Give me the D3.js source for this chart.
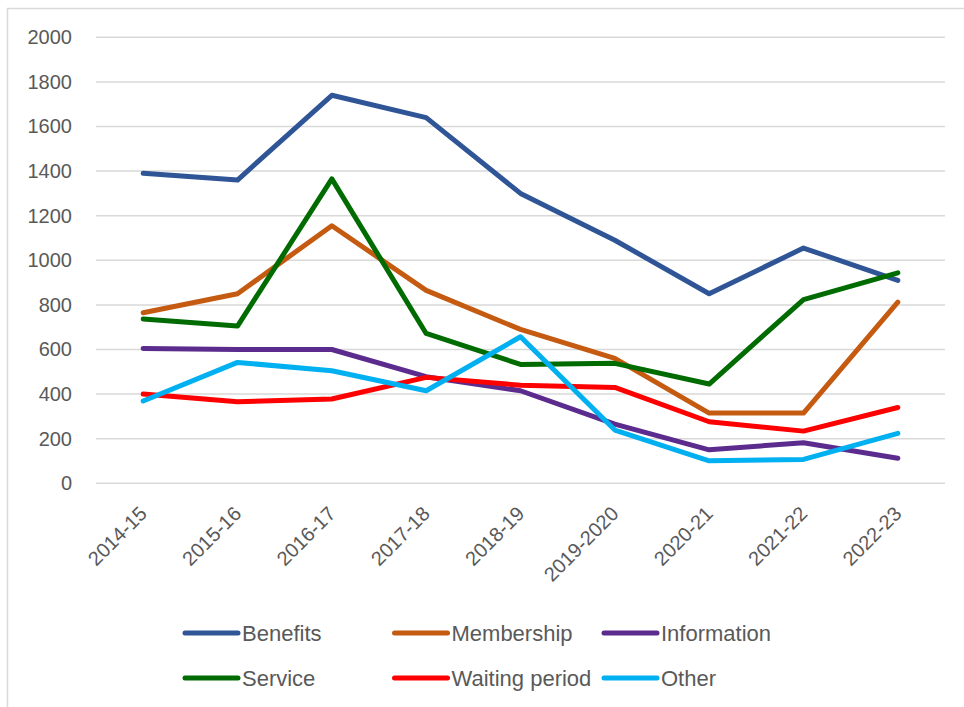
<!DOCTYPE html>
<html>
<head>
<meta charset="utf-8">
<script src="https://cdn.jsdelivr.net/npm/d3@7"></script>
<style>
  html, body { margin: 0; padding: 0; background: #fff; }
  svg { display: block; }
  text { font-family: "Liberation Sans", Arial, sans-serif; fill: #595959; }
</style>
</head>
<body>
<svg id="chart" width="964" height="707"></svg>
<script>
// categories (financial years)
var years = ["2014-15", "2015-16", "2016-17", "2017-18", "2018-19", "2019-2020", "2020-21", "2021-22", "2022-23"];

// series values
var benefits   = [1390, 1360, 1740, 1640, 1300, 1090, 850, 1055, 910];
var membership = [765, 850, 1155, 865, 690, 560, 315, 315, 812];
var information = [605, 600, 600, 478, 415, 265, 150, 182, 112];
var service    = [737, 705, 1365, 672, 533, 538, 445, 824, 944];
var waiting    = [400, 366, 378, 475, 440, 430, 276, 234, 340];
var other      = [369, 542, 505, 415, 657, 239, 101, 107, 224];

var seriesNames = ["Benefits", "Membership", "Information", "Service", "Waiting period", "Other"];
var seriesColors = ["#2F5597", "#C55A11", "#5B2C8E", "#006B00", "#FF0000", "#00B0F0"];
var yTicks = [0, 200, 400, 600, 800, 1000, 1200, 1400, 1600, 1800, 2000];

var allSeries = [benefits, membership, information, service, waiting, other].map(function(vals, i){
  return { name: seriesNames[i], color: seriesColors[i], values: vals };
});

var svg = d3.select("#chart");

// outer chart border (cropped on right/bottom in the original)
svg.append("path")
  .attr("d", "M7.5,707 L7.5,8.5 L964,8.5")
  .attr("fill", "none")
  .attr("stroke", "#D9D9D9")
  .attr("stroke-width", 1.5);

var x = d3.scaleBand().domain(years).range([96, 945]);
var y = d3.scaleLinear().domain([0, 2000]).range([483.3, 37.3]);

// gridlines
svg.append("g")
  .selectAll("line")
  .data(yTicks)
  .join("line")
  .attr("x1", 96).attr("x2", 945)
  .attr("y1", d => y(d)).attr("y2", d => y(d))
  .attr("stroke", "#D9D9D9")
  .attr("stroke-width", 1.5);

// y axis labels
var yAxis = d3.axisLeft(y).tickValues(yTicks).tickFormat(d3.format("d")).tickSize(0).tickPadding(0);
var gy = svg.append("g").attr("transform", "translate(72,0)").call(yAxis);
gy.select(".domain").remove();
gy.attr("font-family", null).attr("font-size", null);
gy.selectAll("text")
  .attr("font-size", 20)
  .attr("fill", "#595959");

// x axis labels, rotated
svg.append("g")
  .selectAll("text")
  .data(years)
  .join("text")
  .attr("transform", d => "translate(" + (x(d) + x.bandwidth() / 2 + 5) + ",515) rotate(-45)")
  .attr("text-anchor", "end")
  .attr("font-size", 20)
  .text(d => d);

// lines
var line = d3.line()
  .x((d, i) => x(years[i]) + x.bandwidth() / 2)
  .y(d => y(d));

svg.append("g")
  .selectAll("path")
  .data(allSeries)
  .join("path")
  .attr("d", d => line(d.values))
  .attr("fill", "none")
  .attr("stroke", d => d.color)
  .attr("stroke-width", 5)
  .attr("stroke-linejoin", "round")
  .attr("stroke-linecap", "round");

// legend: 3 columns x 2 rows
var legend = svg.append("g")
  .selectAll("g")
  .data(allSeries)
  .join("g")
  .attr("transform", (d, i) => "translate(" + (185 + (i % 3) * 209.5) + "," + (633 + Math.floor(i / 3) * 45) + ")");

legend.append("line")
  .attr("x1", 0).attr("x2", 53)
  .attr("y1", 0).attr("y2", 0)
  .attr("stroke", d => d.color)
  .attr("stroke-width", 5)
  .attr("stroke-linecap", "round");

legend.append("text")
  .attr("x", 57)
  .attr("dy", "0.35em")
  .attr("font-size", 22)
  .text(d => d.name);
</script>
</body>
</html>
